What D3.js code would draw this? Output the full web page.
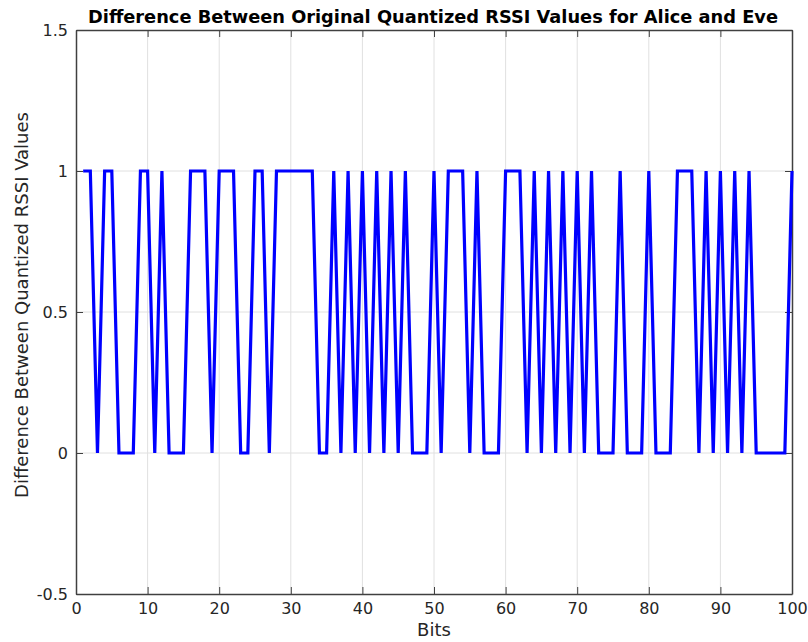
<!DOCTYPE html>
<html>
<head>
<meta charset="utf-8">
<script src="https://cdn.jsdelivr.net/npm/d3@7"></script>
<style>
  html, body { margin: 0; padding: 0; background: #fff; }
  svg text { font-family: "DejaVu Sans", sans-serif; fill: #262626; }
</style>
</head>
<body>
<svg id="chart" width="808" height="642"></svg>
<script>
// Bit index 1..100 and the absolute difference between Alice's and Eve's quantized RSSI bits
const bits = d3.range(1, 101);
const diffValues = [
  1, 1, 0, 1, 1, 0, 0, 0, 1, 1,
  0, 1, 0, 0, 0, 1, 1, 1, 0, 1,
  1, 1, 0, 0, 1, 1, 0, 1, 1, 1,
  1, 1, 1, 0, 0, 1, 0, 1, 0, 1,
  0, 1, 0, 1, 0, 1, 0, 0, 0, 1,
  0, 1, 1, 1, 0, 1, 0, 0, 0, 1,
  1, 1, 0, 1, 0, 1, 0, 1, 0, 1,
  0, 1, 0, 0, 0, 1, 0, 0, 0, 1,
  0, 0, 0, 1, 1, 1, 0, 1, 0, 1,
  0, 1, 0, 1, 0, 0, 0, 0, 0, 1
];
const xTicks = [0, 10, 20, 30, 40, 50, 60, 70, 80, 90, 100];
const yTicks = [-0.5, 0, 0.5, 1, 1.5];

const titleText = "Difference Between Original Quantized RSSI Values for Alice and Eve";
const xLabelText = "Bits";
const yLabelText = "Difference Between Quantized RSSI Values";

const svg = d3.select("#chart");
const plotL = 76, plotR = 792, plotT = 30, plotB = 594;

const x = d3.scaleLinear().domain([0, 100]).range([plotL, plotR]);
const y = d3.scaleLinear().domain([-0.5, 1.5]).range([plotB, plotT]);

// grid
const grid = svg.append("g").attr("stroke", "#e0e0e0").attr("stroke-width", 1);
xTicks.slice(1, -1).forEach(t => {
  grid.append("line").attr("x1", x(t)).attr("x2", x(t)).attr("y1", plotT).attr("y2", plotB);
});
yTicks.slice(1, -1).forEach(t => {
  grid.append("line").attr("x1", plotL).attr("x2", plotR).attr("y1", y(t)).attr("y2", y(t));
});

// axes (ticks drawn inward, box on all sides)
const fmt = d => String(d);
const axB = svg.append("g").attr("transform", `translate(0,${plotB})`)
  .call(d3.axisBottom(x).tickValues(xTicks).tickFormat(fmt).tickSizeInner(-7).tickSizeOuter(0).tickPadding(9));
const axT = svg.append("g").attr("transform", `translate(0,${plotT})`)
  .call(d3.axisTop(x).tickValues(xTicks).tickFormat("").tickSizeInner(-7).tickSizeOuter(0));
const axL = svg.append("g").attr("transform", `translate(${plotL},0)`)
  .call(d3.axisLeft(y).tickValues(yTicks).tickFormat(fmt).tickSizeInner(-7).tickSizeOuter(0).tickPadding(8));
const axR = svg.append("g").attr("transform", `translate(${plotR},0)`)
  .call(d3.axisRight(y).tickValues(yTicks).tickFormat("").tickSizeInner(-7).tickSizeOuter(0));

[axB, axT, axL, axR].forEach(g => {
  g.select(".domain").attr("stroke", "#404040").attr("stroke-width", 1.5);
  g.selectAll(".tick line").attr("stroke", "#404040").attr("stroke-width", 1);
  g.selectAll(".tick text").attr("font-size", 16).attr("fill", "#262626");
});

// data line
const line = d3.line().x((d, i) => x(bits[i])).y(d => y(d));
svg.append("path")
  .datum(diffValues)
  .attr("d", line)
  .attr("fill", "none")
  .attr("stroke", "#0000ff")
  .attr("stroke-width", 3.2)
  .attr("stroke-linejoin", "miter");

// labels
svg.append("text")
  .attr("x", 433).attr("y", 22.5)
  .attr("text-anchor", "middle")
  .attr("font-size", 17.8).attr("font-weight", "bold")
  .style("fill", "#000")
  .text(titleText);

svg.append("text")
  .attr("x", x(50)).attr("y", 636)
  .attr("text-anchor", "middle")
  .attr("font-size", 18)
  .text(xLabelText);

svg.append("text")
  .attr("transform", `translate(27.5,305) rotate(-90)`)
  .attr("text-anchor", "middle")
  .attr("font-size", 18)
  .text(yLabelText);
</script>
</body>
</html>
